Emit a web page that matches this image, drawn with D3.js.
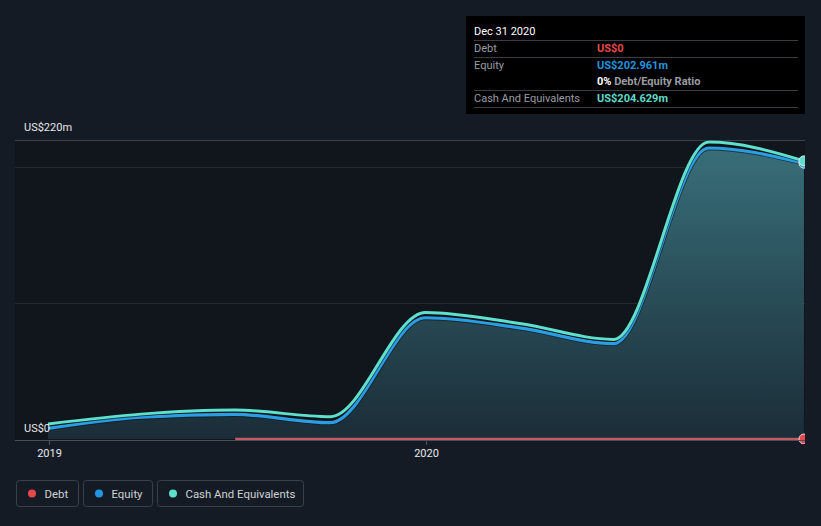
<!DOCTYPE html>
<html><head><meta charset="utf-8">
<script src="https://cdn.jsdelivr.net/npm/d3@7"></script>
<style>
html,body{margin:0;padding:0;background:#151b24;}
svg{display:block;font-family:Roboto,"Open Sans",sans-serif;}
</style></head><body>
<svg id="c" width="821" height="526"></svg>
<script>
const dates = ["2018-12-31","2019-03-31","2019-06-30","2019-09-30","2019-12-31","2020-03-31","2020-06-30","2020-09-30","2020-12-31"];
const cashValues = [11.0, 18.3, 21.3, 16.4, 93.1, 85.0, 73.3, 218.5, 204.629];
const equityValues = [7.8, 16.0, 18.1, 12.0, 89.2, 81.8, 70.2, 214.1, 202.961];
const debtDates = ["2019-06-30","2019-09-30","2019-12-31","2020-03-31","2020-06-30","2020-09-30","2020-12-31"];
const debtValues = [0, 0, 0, 0, 0, 0, 0];
const yTicks = [0, 220];
const yTickLabels = ["US$0", "US$220m"];
const gridValues = [100, 200];
const xTicks = ["2019-01-01", "2020-01-01"];
const xTickLabels = ["2019", "2020"];
const legendItems = ["Debt", "Equity", "Cash And Equivalents"];
const legendColors = ["#e5484d", "#2394df", "#5fe0cc"];
const tooltipTitle = "Dec 31 2020";
const tooltipRows = [
  {label:"Debt", value:"US$0", color:"#e5484d"},
  {label:"Equity", value:"US$202.961m", color:"#2394df"},
  {label:"", value:"0%", extra:" Debt/Equity Ratio", color:"#ffffff"},
  {label:"Cash And Equivalents", value:"US$204.629m", color:"#5fd9c9"}
];

const parse = d3.timeParse("%Y-%m-%d");
const svg = d3.select("#c");
const L = 15, R = 805, T = 140, B = 439;
const x = d3.scaleTime().domain([parse("2019-01-01"), parse("2021-01-01")]).range([49, 805]);
const y = d3.scaleLinear().domain([0, 220]).range([B, T]);

const defs = svg.append("defs");
defs.append("clipPath").attr("id","clip").append("rect").attr("x",L).attr("y",0).attr("width",R-L).attr("height",B+5);
defs.append("linearGradient").attr("id","fillg2").attr("gradientUnits","userSpaceOnUse").attr("x1",0).attr("y1",T).attr("x2",0).attr("y2",B)
  .call(g=>{g.append("stop").attr("offset","0%").attr("stop-color","#3b7580");g.append("stop").attr("offset","100%").attr("stop-color","#1b2e39");});

// plot background
svg.append("rect").attr("x",L).attr("y",T).attr("width",R-L).attr("height",B-T+1).attr("fill","#11151c");

// gridlines
svg.selectAll(".grid").data(gridValues).join("line")
  .attr("x1",L).attr("x2",R).attr("y1",d=>Math.round(y(d))+0.5).attr("y2",d=>Math.round(y(d))+0.5)
  .attr("stroke","#252a31").attr("stroke-width",1);
svg.append("line").attr("x1",L).attr("x2",R).attr("y1",Math.round(y(220))+0.5).attr("y2",Math.round(y(220))+0.5)
  .attr("stroke","#3c414a").attr("stroke-width",1);

const cash = dates.map((d,i)=>({d:parse(d), v:cashValues[i]}));
const eq = dates.map((d,i)=>({d:parse(d), v:equityValues[i]}));
const debt = debtDates.map((d,i)=>({d:parse(d), v:debtValues[i]}));

const plot = svg.append("g").attr("clip-path","url(#clip)");
const area = d3.area().x(p=>x(p.d)).y0(B).y1(p=>y(p.v)).curve(d3.curveMonotoneX);
const line = d3.line().x(p=>x(p.d)).y(p=>y(p.v)).curve(d3.curveMonotoneX);

plot.append("path").datum(eq).attr("d",area).attr("fill","url(#fillg2)").attr("opacity",0.95);

// debt line
plot.append("path").datum(debt).attr("d",line).attr("fill","none").attr("stroke","#c45a60").attr("stroke-width",2.5);

// equity
plot.append("path").datum(eq).attr("d",line).attr("fill","none").attr("stroke","#0e1419").attr("stroke-width",5).attr("opacity",0.6);
plot.append("path").datum(eq).attr("d",line).attr("fill","none").attr("stroke","#2b9ee3").attr("stroke-width",3.2);
// cash
plot.append("path").datum(cash).attr("d",line).attr("fill","none").attr("stroke","#0e1419").attr("stroke-width",4.6).attr("opacity",0.6);
plot.append("path").datum(cash).attr("d",line).attr("fill","none").attr("stroke","#5fe0cc").attr("stroke-width",3);

// end dots
const lastE = eq[eq.length-1], lastC = cash[cash.length-1], lastD = debt[debt.length-1];
plot.append("circle").attr("cx",x(lastE.d)).attr("cy",y(lastE.v)).attr("r",5).attr("fill","#2394df").attr("stroke","#dfe8ee").attr("stroke-width",1);
plot.append("circle").attr("cx",x(lastC.d)).attr("cy",y(lastC.v)).attr("r",5).attr("fill","#5fe0cc").attr("stroke","#dfe8ee").attr("stroke-width",1);
plot.append("circle").attr("cx",x(lastD.d)).attr("cy",y(lastD.v)).attr("r",5).attr("fill","#e5484d").attr("stroke","#f0d0d0").attr("stroke-width",1);

// x axis
svg.append("line").attr("x1",L).attr("x2",R).attr("y1",440.5).attr("y2",440.5).attr("stroke","#4a4f58").attr("stroke-width",1);
const xg = svg.append("g");
xTicks.forEach((t,i)=>{
  const xx = Math.round(x(parse(t)))+0.5;
  xg.append("line").attr("x1",xx).attr("x2",xx).attr("y1",441).attr("y2",445).attr("stroke","#4a4f58");
  xg.append("text").attr("x",xx).attr("y",457).attr("text-anchor","middle").attr("fill","#e6e8ea").attr("font-size",11).text(xTickLabels[i]);
});

// y labels
yTicks.forEach((t,i)=>{
  svg.append("text").attr("x",24).attr("y", t===0 ? y(t)-7 : y(t)-9).attr("fill","#e6e8ea").attr("font-size",11).text(yTickLabels[i]);
});

// tooltip
const tt = svg.append("g");
tt.append("rect").attr("x",466).attr("y",16).attr("width",339).attr("height",98).attr("fill","#000");
tt.append("text").attr("x",474).attr("y",35).attr("fill","#fff").attr("font-size",11).text(tooltipTitle);
[40,57,90,107].forEach(yy=>tt.append("line").attr("x1",474).attr("x2",798).attr("y1",yy+0.5).attr("y2",yy+0.5).attr("stroke","#3a3d42"));
const rowY = [52, 69, 85, 102];
tooltipRows.forEach((r,i)=>{
  tt.append("text").attr("x",474).attr("y",rowY[i]).attr("fill","#9a9da2").attr("font-size",11).text(r.label);
  const t = tt.append("text").attr("x",597).attr("y",rowY[i]).attr("font-size",11).attr("font-weight","bold");
  t.append("tspan").attr("fill",r.color).text(r.value);
  if (r.extra) t.append("tspan").attr("fill","#9a9da2").text(r.extra);
});

// legend
const lg = svg.append("g");
const boxes = [{x:16.5,w:62},{x:83.5,w:69},{x:157.5,w:146}];
legendItems.forEach((name,i)=>{
  const b = boxes[i];
  lg.append("rect").attr("x",b.x).attr("y",480.5).attr("width",b.w).attr("height",26).attr("rx",3)
    .attr("fill","none").attr("stroke","#3a3f48");
  lg.append("circle").attr("cx",b.x+15.5).attr("cy",493.5).attr("r",4).attr("fill",legendColors[i]);
  lg.append("text").attr("x",b.x+28).attr("y",497.5).attr("fill","#cfd2d6").attr("font-size",11.4).text(name);
});
</script>
</body></html>
